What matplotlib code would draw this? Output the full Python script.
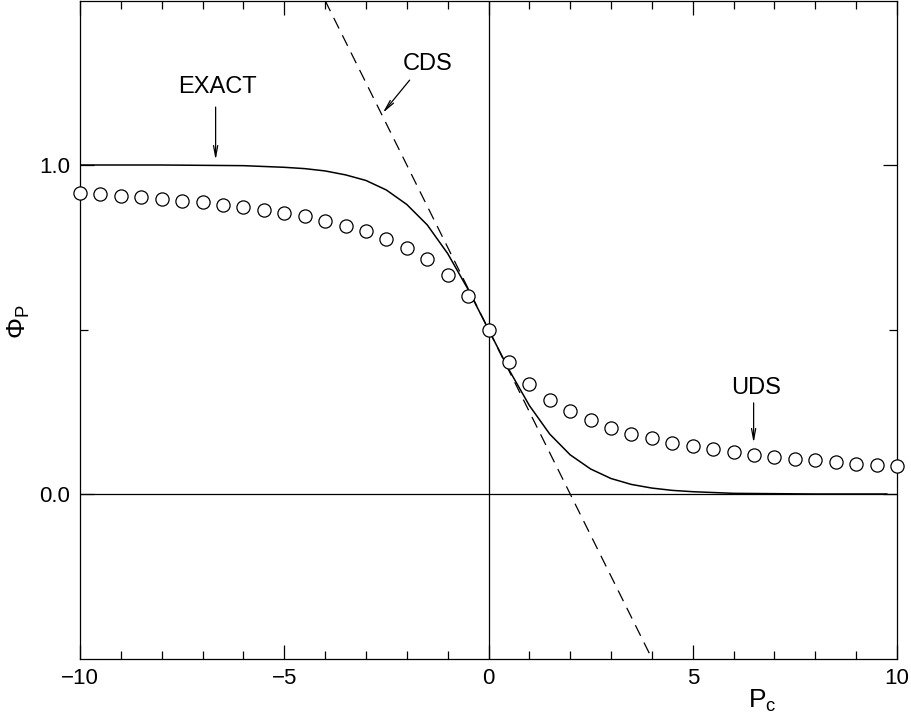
import numpy as np
import matplotlib
matplotlib.use('Agg')
from matplotlib import pyplot as plt
from matplotlib import ticker

plt.rcParams['font.family'] = ['Liberation Sans', 'DejaVu Sans']
plt.rcParams['mathtext.fontset'] = 'custom'
plt.rcParams['mathtext.rm'] = 'Liberation Sans'
plt.rcParams['mathtext.it'] = 'Liberation Sans'

# data
# ########################################

# UDS (circles), every 0.5 from -10 to 10
uds_x = np.arange(-10, 10.01, 0.5)
uds_y = [0.914, 0.911, 0.907, 0.902, 0.898, 0.891, 0.887, 0.879, 0.872, 0.864,
         0.855, 0.844, 0.831, 0.816, 0.799, 0.776, 0.748, 0.713, 0.666, 0.601,
         0.500,
         0.400, 0.335, 0.287, 0.251, 0.224, 0.202, 0.183, 0.169, 0.156, 0.145,
         0.136, 0.127, 0.120, 0.112, 0.106, 0.102, 0.096, 0.092, 0.088, 0.085]

# exact solution (solid)
exact_x = [-10, -8, -6, -5, -4.5, -4, -3.5, -3, -2.5, -2, -1.5, -1, -0.5, 0,
           0.5, 1, 1.5, 2, 2.5, 3, 3.5, 4, 4.5, 5, 6, 8, 9.75]
exact_y = [1.0, 1.0, 0.998, 0.993, 0.989, 0.982, 0.970, 0.953, 0.924, 0.880,
           0.818, 0.731, 0.622, 0.500, 0.378, 0.269, 0.182, 0.119, 0.076,
           0.047, 0.029, 0.018, 0.011, 0.007, 0.002, 0.0, 0.0]

# CDS (dashed)
cds_x = [-4, 4]
cds_y = [1.5, -0.5]

xticks = [-10, -5, 0, 5, 10]
xticklabels = ['\u221210', '\u22125', '0', '5', '10']
yticks = [0.0, 1.0]
yticklabels = ['0.0', '1.0']

# figure
# ########################################

fig = plt.figure(figsize=(9.11, 7.19), dpi=100)
ax = fig.add_axes([80/911, 1 - 658.5/719, 817/911, 658/719])

ax.axhline(0, color='k', lw=0.9)
ax.axvline(0, color='k', lw=0.9)

ax.plot(exact_x, exact_y, '-k', lw=1.1)
ax.plot(cds_x, cds_y, color='k', lw=0.9, dashes=(9.5, 6))
ax.plot(uds_x, uds_y, 'o', ms=9.5, mfc='white', mec='k', mew=0.9,
        clip_on=False, zorder=5)

ax.set_xlim(-10, 10)
ax.set_ylim(-0.5, 1.5)

# ticks
ax.set_xticks(xticks)
ax.set_xticklabels(xticklabels)
ax.xaxis.set_minor_locator(ticker.MultipleLocator(1))
ax.set_yticks(yticks)
ax.set_yticklabels(yticklabels)
ax.yaxis.set_minor_locator(ticker.FixedLocator([0.5]))
ax.tick_params(which='both', direction='in', top=True, right=True,
               labelsize=16, width=0.9)
ax.tick_params(which='major', length=10, pad=7)
ax.tick_params(which='minor', length=5.5)
for s in ax.spines.values():
    s.set_linewidth(0.9)

ax.set_xlabel('P$_\\mathrm{c}$', fontsize=19)
ax.xaxis.set_label_coords(0.835, -0.045)
fig.text(19/911, 1 - 322/719, '\u03a6$_\\mathrm{P}$', fontsize=19,
         rotation=90, ha='center', va='center')

# labels and arrows
# ########################################
arrow = dict(arrowstyle='->,head_length=0.8,head_width=0.15', color='k',
             lw=0.9, shrinkA=0, shrinkB=0)

ax.text(-6.63, 1.237, 'EXACT', fontsize=17, ha='center', va='center')
ax.annotate('', xy=(-6.68, 1.015), xytext=(-6.68, 1.176), arrowprops=arrow)

ax.text(-1.49, 1.307, 'CDS', fontsize=17, ha='center', va='center')
ax.annotate('', xy=(-2.59, 1.158), xytext=(-1.93, 1.258), arrowprops=arrow)

ax.text(6.54, 0.322, 'UDS', fontsize=17, ha='center', va='center')
ax.annotate('', xy=(6.49, 0.155), xytext=(6.49, 0.277), arrowprops=arrow)

fig.savefig('out.png', dpi=100)
